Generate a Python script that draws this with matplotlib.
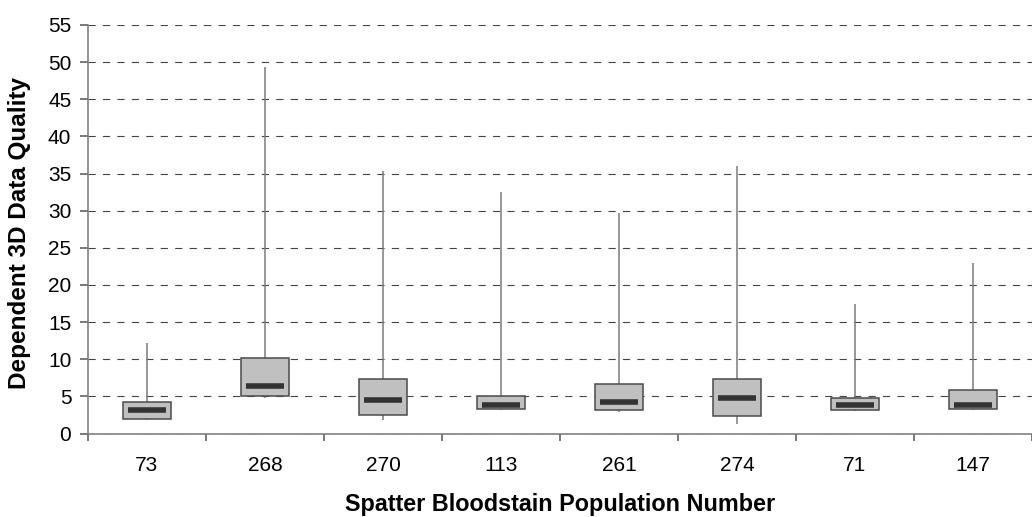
import numpy as np
import matplotlib
matplotlib.use('Agg')
import matplotlib.pyplot as plt

plt.rcParams['font.family'] = ['Liberation Sans', 'DejaVu Sans']
plt.rcParams['lines.scale_dashes'] = False

# population numbers and box statistics
populations = ['73', '268', '270', '113', '261', '274', '71', '147']
whisker_min = [1.85, 4.8, 1.85, 3.1, 2.9, 1.3, 3.0, 3.2]
q1 = [2.0, 5.0, 2.55, 3.35, 3.1, 2.3, 3.1, 3.35]
median = [3.1, 6.35, 4.45, 3.9, 4.2, 4.75, 3.9, 3.9]
q3 = [4.2, 10.15, 7.4, 5.0, 6.65, 7.4, 4.75, 5.8]
whisker_max = [12.25, 49.3, 35.3, 32.5, 29.7, 36.0, 17.4, 23.0]

fig = plt.figure(figsize=(10.32, 5.17), dpi=100)
ax = fig.add_axes([88 / 1032, (517 - 433.5) / 517, (1032 - 88) / 1032, 408.5 / 517])

x = np.arange(len(populations))

# gridlines
ax.set_ylim(0, 55)
ax.set_yticks(np.arange(0, 56, 5))
ax.yaxis.grid(True, color='#444444', linestyle=(0, (5.2, 5.2)), linewidth=0.8)
ax.set_axisbelow(True)

# whiskers behind boxes
ax.vlines(x, whisker_min, whisker_max, color='#7a7a7a', linewidth=1.1, zorder=2)
# boxes
ax.bar(x, np.array(q3) - np.array(q1), bottom=q1, width=0.405,
       color='#c0c0c0', edgecolor='#4a4a4a', linewidth=1.1, zorder=3)
# medians as thick dark dashes
ax.hlines(median, x - 0.165, x + 0.165, color='#333333', linewidth=4, zorder=4)

ax.set_xlim(-0.5, len(populations) - 0.5)
ax.set_xticks(x)
ax.set_xticklabels(populations, fontsize=15)
ax.tick_params(axis='x', which='major', length=0, pad=16)
ax.set_xticks(np.arange(-0.5, len(populations), 1.0), minor=True)
ax.tick_params(axis='x', which='minor', length=5, width=1.1, color='#555555')
ax.tick_params(axis='y', length=6, width=1.1, color='#555555', labelsize=15, pad=6)

for s in ['top', 'right']:
    ax.spines[s].set_visible(False)
for s in ['left', 'bottom']:
    ax.spines[s].set_color('#777777')
    ax.spines[s].set_linewidth(1.1)

ax.set_xlabel('Spatter Bloodstain Population Number', fontsize=16.8, fontweight='bold', va='center')
ax.xaxis.set_label_coords(0.5, (433.5 - 504) / 408.5)
ax.set_ylabel('Dependent 3D Data Quality', fontsize=17.5, fontweight='bold', va='center')
ax.yaxis.set_label_coords((20 - 88) / 944, 0.49)

fig.savefig('out.png', dpi=100)
